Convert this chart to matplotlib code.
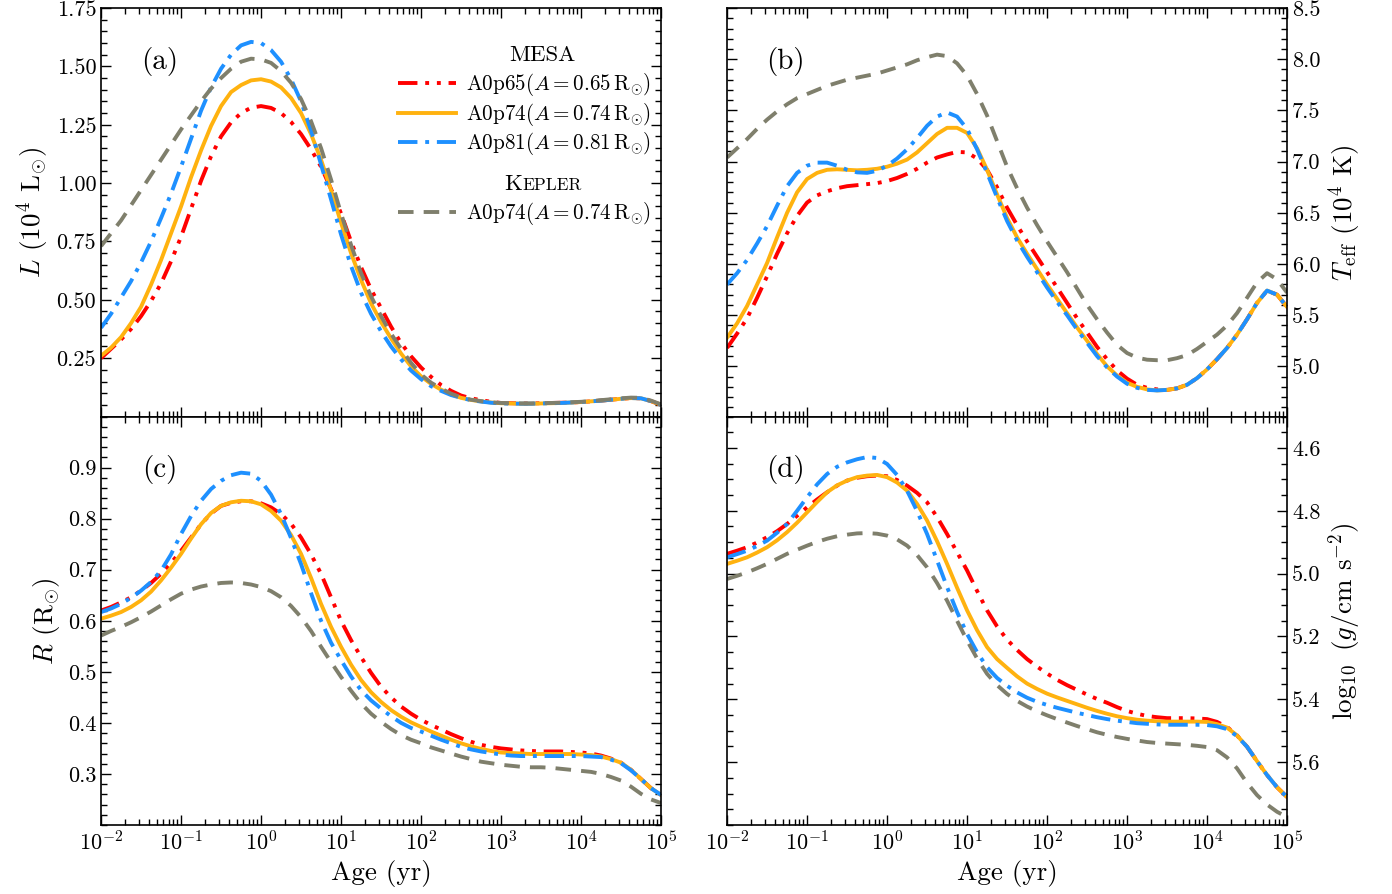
import numpy as np
import matplotlib
matplotlib.use("Agg")
import matplotlib.pyplot as plt
from matplotlib.ticker import MultipleLocator, FixedLocator, FormatStrFormatter, LogLocator, NullFormatter
from matplotlib.lines import Line2D
from matplotlib.offsetbox import TextArea, HPacker, AnchoredOffsetbox

plt.rcParams.update({
    "font.family": "serif",
    "font.serif": ["cmr10"],
    "mathtext.fontset": "cm",
    "axes.formatter.use_mathtext": True,
    "axes.unicode_minus": False,
})

# log10 of age in years, one row per decade
log_age = [-2.0, -1.875, -1.75, -1.625, -1.5, -1.375, -1.25, -1.125,
           -1.0, -0.875, -0.75, -0.625, -0.5, -0.375, -0.25, -0.125,
           0.0, 0.125, 0.25, 0.375, 0.5, 0.625, 0.75, 0.875,
           1.0, 1.125, 1.25, 1.375, 1.5, 1.625, 1.75, 1.875,
           2.0, 2.125, 2.25, 2.375, 2.5, 2.625, 2.75, 2.875,
           3.0, 3.125, 3.25, 3.375, 3.5, 3.625, 3.75, 3.875,
           4.0, 4.125, 4.25, 4.375, 4.5, 4.625, 4.75, 4.875,
           5.0]

# (a) luminosity, 1e4 Lsun
L_a065 = [0.25, 0.29, 0.33, 0.375, 0.43, 0.495, 0.57, 0.665,
          0.77, 0.89, 1.01, 1.115, 1.20, 1.26, 1.30, 1.323,
          1.33, 1.322, 1.30, 1.262, 1.21, 1.145, 1.07, 0.975,
          0.87, 0.75, 0.64, 0.545, 0.465, 0.385, 0.315, 0.258,
          0.21, 0.17, 0.135, 0.11, 0.09, 0.078, 0.07, 0.063,
          0.058, 0.057, 0.056, 0.056, 0.057, 0.058, 0.059, 0.06,
          0.062, 0.065, 0.068, 0.072, 0.076, 0.079, 0.078, 0.066,
          0.05]
L_a074 = [0.26, 0.295, 0.34, 0.40, 0.47, 0.565, 0.67, 0.785,
          0.90, 1.025, 1.14, 1.245, 1.33, 1.39, 1.42, 1.44,
          1.445, 1.435, 1.41, 1.365, 1.30, 1.21, 1.10, 0.97,
          0.83, 0.70, 0.585, 0.485, 0.405, 0.335, 0.27, 0.215,
          0.172, 0.14, 0.115, 0.095, 0.08, 0.071, 0.065, 0.06,
          0.057, 0.056, 0.055, 0.055, 0.056, 0.057, 0.058, 0.06,
          0.062, 0.065, 0.068, 0.072, 0.076, 0.079, 0.078, 0.066,
          0.05]
L_a081 = [0.38, 0.44, 0.51, 0.58, 0.66, 0.75, 0.85, 0.955,
          1.07, 1.19, 1.31, 1.41, 1.49, 1.55, 1.59, 1.605,
          1.60, 1.57, 1.52, 1.445, 1.35, 1.225, 1.08, 0.93,
          0.78, 0.645, 0.53, 0.44, 0.365, 0.30, 0.245, 0.197,
          0.16, 0.13, 0.11, 0.092, 0.08, 0.07, 0.064, 0.059,
          0.056, 0.055, 0.055, 0.055, 0.056, 0.057, 0.058, 0.06,
          0.062, 0.065, 0.068, 0.072, 0.076, 0.079, 0.078, 0.066,
          0.05]
L_kep = [0.73, 0.785, 0.84, 0.905, 0.97, 1.035, 1.10, 1.165,
         1.23, 1.29, 1.35, 1.405, 1.45, 1.49, 1.52, 1.533,
         1.53, 1.515, 1.48, 1.43, 1.36, 1.265, 1.15, 1.015,
         0.87, 0.735, 0.615, 0.515, 0.43, 0.355, 0.29, 0.23,
         0.18, 0.145, 0.12, 0.098, 0.082, 0.072, 0.066, 0.061,
         0.058, 0.057, 0.056, 0.056, 0.057, 0.058, 0.059, 0.061,
         0.063, 0.066, 0.07, 0.074, 0.078, 0.081, 0.08, 0.068,
         0.052]

# (b) effective temperature, 1e4 K
T_a065 = [5.18, 5.32, 5.47, 5.67, 5.88, 6.10, 6.30, 6.47,
          6.60, 6.67, 6.71, 6.74, 6.76, 6.77, 6.78, 6.79,
          6.81, 6.84, 6.88, 6.93, 6.99, 7.04, 7.07, 7.095,
          7.09, 7.03, 6.92, 6.75, 6.55, 6.38, 6.22, 6.07,
          5.92, 5.77, 5.62, 5.47, 5.33, 5.19, 5.07, 4.96,
          4.88, 4.82, 4.79, 4.775, 4.77, 4.785, 4.82, 4.885,
          4.97, 5.07, 5.18, 5.31, 5.46, 5.62, 5.74, 5.70,
          5.58]
T_a074 = [5.28, 5.42, 5.59, 5.80, 6.01, 6.26, 6.50, 6.70,
          6.83, 6.89, 6.92, 6.925, 6.92, 6.915, 6.92, 6.93,
          6.95, 6.98, 7.02, 7.09, 7.18, 7.27, 7.33, 7.33,
          7.28, 7.13, 6.92, 6.68, 6.45, 6.26, 6.10, 5.95,
          5.80, 5.66, 5.52, 5.38, 5.25, 5.12, 5.00, 4.91,
          4.84, 4.80, 4.775, 4.765, 4.77, 4.785, 4.82, 4.885,
          4.97, 5.07, 5.18, 5.31, 5.46, 5.62, 5.74, 5.70,
          5.58]
T_a081 = [5.80, 5.91, 6.04, 6.20, 6.37, 6.57, 6.76, 6.89,
          6.96, 6.99, 6.99, 6.96, 6.92, 6.895, 6.89, 6.91,
          6.96, 7.03, 7.12, 7.23, 7.35, 7.44, 7.48, 7.44,
          7.32, 7.12, 6.89, 6.65, 6.42, 6.23, 6.07, 5.92,
          5.77, 5.63, 5.50, 5.36, 5.23, 5.10, 4.99, 4.90,
          4.83, 4.79, 4.77, 4.765, 4.77, 4.785, 4.82, 4.885,
          4.97, 5.07, 5.18, 5.31, 5.46, 5.62, 5.74, 5.70,
          5.58]
T_kep = [7.04, 7.13, 7.22, 7.32, 7.41, 7.49, 7.56, 7.62,
         7.66, 7.70, 7.74, 7.77, 7.80, 7.82, 7.84, 7.86,
         7.89, 7.92, 7.95, 7.99, 8.02, 8.045, 8.03, 7.96,
         7.84, 7.66, 7.45, 7.20, 6.95, 6.74, 6.55, 6.38,
         6.22, 6.07, 5.92, 5.76, 5.60, 5.46, 5.33, 5.21,
         5.13, 5.085, 5.065, 5.06, 5.06, 5.08, 5.11, 5.17,
         5.24, 5.31, 5.40, 5.52, 5.67, 5.82, 5.91, 5.85,
         5.72]

# (c) radius, Rsun
R_a065 = [0.62, 0.627, 0.636, 0.646, 0.659, 0.674, 0.692, 0.713,
          0.737, 0.763, 0.789, 0.81, 0.825, 0.831, 0.834, 0.834,
          0.83, 0.822, 0.809, 0.79, 0.763, 0.73, 0.692, 0.646,
          0.60, 0.562, 0.529, 0.498, 0.471, 0.45, 0.432, 0.418,
          0.406, 0.396, 0.387, 0.378, 0.37, 0.363, 0.357, 0.353,
          0.35, 0.348, 0.346, 0.345, 0.344, 0.344, 0.344, 0.343,
          0.342, 0.34, 0.336, 0.33, 0.322, 0.308, 0.29, 0.272,
          0.259]
R_a074 = [0.604, 0.61, 0.617, 0.627, 0.64, 0.657, 0.679, 0.704,
          0.731, 0.761, 0.789, 0.811, 0.825, 0.832, 0.835, 0.834,
          0.828, 0.815, 0.796, 0.768, 0.731, 0.684, 0.633, 0.588,
          0.549, 0.514, 0.484, 0.46, 0.441, 0.425, 0.412, 0.401,
          0.392, 0.383, 0.375, 0.367, 0.36, 0.354, 0.349, 0.345,
          0.342, 0.341, 0.34, 0.339, 0.339, 0.339, 0.339, 0.339,
          0.338, 0.337, 0.334, 0.329, 0.322, 0.308, 0.29, 0.272,
          0.259]
R_a081 = [0.617, 0.624, 0.633, 0.645, 0.659, 0.676, 0.698, 0.73,
          0.77, 0.805, 0.835, 0.858, 0.874, 0.885, 0.89, 0.888,
          0.874, 0.847, 0.809, 0.762, 0.711, 0.654, 0.60, 0.557,
          0.523, 0.491, 0.464, 0.444, 0.428, 0.413, 0.40, 0.39,
          0.383, 0.375, 0.367, 0.36, 0.353, 0.348, 0.344, 0.341,
          0.338, 0.336, 0.335, 0.335, 0.335, 0.335, 0.335, 0.335,
          0.335, 0.334, 0.333, 0.328, 0.321, 0.307, 0.29, 0.272,
          0.259]
R_kep = [0.571, 0.58, 0.588, 0.597, 0.607, 0.618, 0.63, 0.642,
         0.653, 0.661, 0.667, 0.671, 0.674, 0.675, 0.674, 0.671,
         0.666, 0.658, 0.646, 0.629, 0.607, 0.58, 0.549, 0.519,
         0.49, 0.463, 0.438, 0.418, 0.402, 0.388, 0.376, 0.367,
         0.36, 0.352, 0.346, 0.34, 0.334, 0.329, 0.324, 0.321,
         0.318, 0.316, 0.314, 0.313, 0.313, 0.312, 0.31, 0.308,
         0.306, 0.304, 0.30, 0.294, 0.287, 0.275, 0.261, 0.25,
         0.243]

# (d) log10 surface gravity, cgs
g_a065 = [4.937, 4.927, 4.916, 4.901, 4.884, 4.865, 4.842, 4.816,
          4.789, 4.764, 4.741, 4.72, 4.704, 4.695, 4.69, 4.688,
          4.69, 4.702, 4.72, 4.743, 4.773, 4.82, 4.874, 4.932,
          4.99, 5.055, 5.117, 5.168, 5.21, 5.243, 5.272, 5.296,
          5.318, 5.338, 5.355, 5.37, 5.385, 5.399, 5.411, 5.425,
          5.437, 5.446, 5.453, 5.457, 5.46, 5.46, 5.46, 5.461,
          5.463, 5.472, 5.488, 5.515, 5.551, 5.597, 5.641, 5.68,
          5.711]
g_a074 = [4.969, 4.959, 4.948, 4.933, 4.916, 4.894, 4.868, 4.838,
          4.805, 4.772, 4.741, 4.719, 4.704, 4.693, 4.688, 4.686,
          4.693, 4.71, 4.736, 4.778, 4.831, 4.897, 4.969, 5.045,
          5.117, 5.18, 5.234, 5.272, 5.30, 5.327, 5.35, 5.367,
          5.382, 5.394, 5.405, 5.416, 5.427, 5.437, 5.446, 5.454,
          5.46, 5.465, 5.468, 5.47, 5.471, 5.471, 5.471, 5.471,
          5.472, 5.479, 5.49, 5.515, 5.551, 5.597, 5.641, 5.68,
          5.711]
g_a081 = [4.948, 4.938, 4.927, 4.912, 4.895, 4.87, 4.842, 4.80,
          4.757, 4.716, 4.683, 4.66, 4.646, 4.636, 4.629, 4.632,
          4.651, 4.686, 4.736, 4.801, 4.874, 4.958, 5.043, 5.122,
          5.192, 5.25, 5.298, 5.332, 5.357, 5.378, 5.395, 5.408,
          5.418, 5.427, 5.435, 5.443, 5.45, 5.457, 5.463, 5.468,
          5.472, 5.476, 5.478, 5.48, 5.481, 5.481, 5.481, 5.481,
          5.482, 5.486, 5.495, 5.517, 5.551, 5.597, 5.641, 5.68,
          5.711]
g_kep = [5.017, 5.007, 4.996, 4.983, 4.969, 4.953, 4.937, 4.924,
         4.911, 4.899, 4.889, 4.881, 4.876, 4.872, 4.871, 4.873,
         4.879, 4.891, 4.911, 4.941, 4.98, 5.03, 5.086, 5.15,
         5.213, 5.27, 5.319, 5.355, 5.383, 5.405, 5.423, 5.438,
         5.451, 5.463, 5.474, 5.485, 5.495, 5.505, 5.513, 5.52,
         5.526, 5.531, 5.536, 5.539, 5.541, 5.543, 5.545, 5.548,
         5.552, 5.562, 5.585, 5.62, 5.666, 5.705, 5.735, 5.758,
         5.775]

age = 10 ** np.array(log_age)

# colour, dash pattern, legend label
styles = [
    ("#ff0000", (0, (5, 2, 1, 2, 1, 2)), r"A0p65$(A=0.65\,\mathrm{R}_{\odot})$"),
    ("#ffb20f", "-", r"A0p74$(A=0.74\,\mathrm{R}_{\odot})$"),
    ("#1e90ff", (0, (5, 2, 1, 2)), r"A0p81$(A=0.81\,\mathrm{R}_{\odot})$"),
    ("#7f7f6c", (0, (4, 2.6)), r"A0p74$(A=0.74\,\mathrm{R}_{\odot})$"),
]
lw = 2.8
tick_fs = 16
label_fs = 19.5

fig, axes = plt.subplots(2, 2, figsize=(13.92, 8.94), dpi=100, sharex="col")
fig.subplots_adjust(left=0.0726, right=0.9246, top=0.991, bottom=0.0772, hspace=0, wspace=0.118)
ax_a, ax_b = axes[0]
ax_c, ax_d = axes[1]

panels = [
    (ax_a, [L_a065, L_a074, L_a081, L_kep], "(a)"),
    (ax_b, [T_a065, T_a074, T_a081, T_kep], "(b)"),
    (ax_c, [R_a065, R_a074, R_a081, R_kep], "(c)"),
    (ax_d, [g_a065, g_a074, g_a081, g_kep], "(d)"),
]

for ax, series, tag in panels:
    for (col, ls, lab), y in zip(styles, series):
        ax.plot(age, y, color=col, ls=ls, lw=lw)
    ax.set_xscale("log")
    ax.set_xlim(1e-2, 1e5)
    ax.xaxis.set_major_locator(LogLocator(base=10, numticks=20))
    ax.xaxis.set_minor_locator(LogLocator(base=10, subs=np.arange(2, 10), numticks=20))
    ax.xaxis.set_minor_formatter(NullFormatter())
    ax.tick_params(which="both", direction="in", top=True, right=True, width=1.0, labelsize=tick_fs)
    ax.tick_params(which="major", length=7)
    ax.tick_params(which="minor", length=4)
    for sp in ax.spines.values():
        sp.set_linewidth(1.2)
    ax.text(0.105, 0.87, tag, transform=ax.transAxes, fontsize=21, ha="center", va="center")

# (a)
ax_a.set_ylim(0.0, 1.75)
ax_a.yaxis.set_major_locator(FixedLocator([0.25, 0.5, 0.75, 1.0, 1.25, 1.5, 1.75]))
ax_a.yaxis.set_minor_locator(MultipleLocator(0.05))
ax_a.yaxis.set_major_formatter(FormatStrFormatter("%.2f"))
ax_a.set_ylabel(r"$L$ ($10^4$ L$_{\odot}$)", fontsize=label_fs)
ax_a.tick_params(labelbottom=False)

# (b)
ax_b.set_ylim(4.51, 8.5)
ax_b.yaxis.set_major_locator(FixedLocator([5.0, 5.5, 6.0, 6.5, 7.0, 7.5, 8.0, 8.5]))
ax_b.yaxis.set_minor_locator(MultipleLocator(0.1))
ax_b.yaxis.set_major_formatter(FormatStrFormatter("%.1f"))
ax_b.tick_params(labelleft=False, labelright=True, labelbottom=False)
ax_b.yaxis.set_label_position("right")
ax_b.set_ylabel(r"$T_{\mathrm{eff}}$ ($10^4$ K)", fontsize=label_fs)

# (c)
ax_c.set_ylim(0.2, 1.0)
ax_c.yaxis.set_major_locator(FixedLocator([0.3, 0.4, 0.5, 0.6, 0.7, 0.8, 0.9]))
ax_c.yaxis.set_minor_locator(MultipleLocator(0.02))
ax_c.yaxis.set_major_formatter(FormatStrFormatter("%.1f"))
ax_c.set_ylabel(r"$R$ (R$_{\odot}$)", fontsize=label_fs)
ax_c.set_xlabel("Age (yr)", fontsize=label_fs)

# (d), gravity axis runs downwards
ax_d.set_ylim(5.80, 4.50)
ax_d.yaxis.set_major_locator(FixedLocator([4.6, 4.8, 5.0, 5.2, 5.4, 5.6]))
ax_d.yaxis.set_minor_locator(MultipleLocator(0.05))
ax_d.yaxis.set_major_formatter(FormatStrFormatter("%.1f"))
ax_d.tick_params(labelleft=False, labelright=True)
ax_d.yaxis.set_label_position("right")
ax_d.set_ylabel(r"$\log_{10}$ ($g$/cm s$^{-2}$)", fontsize=label_fs)
ax_d.set_xlabel("Age (yr)", fontsize=label_fs)

# legend: two groups with centred headings
handles = [Line2D([], [], color=c, ls=s, lw=lw) for c, s, _ in styles]
labels = [lab for _, _, lab in styles]
leg_kw = dict(loc="upper left", frameon=False, fontsize=15.2, handlelength=2.75,
              handletextpad=0.45, labelspacing=0.12, borderpad=0, borderaxespad=0)
leg1 = ax_a.legend(handles[:3], labels[:3], bbox_to_anchor=(0.531, 0.845), **leg_kw)
ax_a.add_artist(leg1)
ax_a.legend(handles[3:], labels[3:], bbox_to_anchor=(0.531, 0.53), **leg_kw)

ax_a.text(0.789, 0.8845, "MESA", transform=ax_a.transAxes, fontsize=16.5, ha="center", va="center")
kep = HPacker(children=[TextArea("K", textprops=dict(fontsize=16.5)),
                        TextArea("EPLER", textprops=dict(fontsize=12.5))],
              align="baseline", pad=0, sep=0)
ax_a.add_artist(AnchoredOffsetbox(loc="center", child=kep, bbox_to_anchor=(0.789, 0.5676),
                                  bbox_transform=ax_a.transAxes, frameon=False, pad=0, borderpad=0))

fig.savefig("out.png", dpi=100)
